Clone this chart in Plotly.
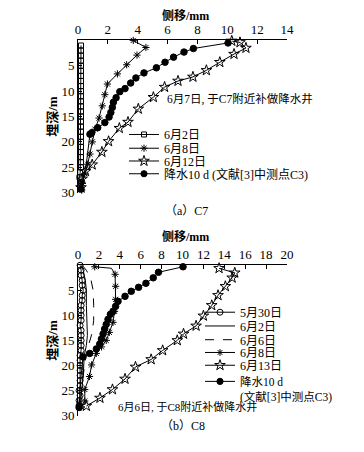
import plotly.graph_objects as go

# ---------------- data: (a) C7 ----------------
a_jun2_depth = [1, 2, 3, 4, 5, 6, 7, 8, 9, 10, 11, 12, 13, 14, 15, 16, 17, 18, 19, 20,
                21, 22, 23, 24, 25, 26, 27, 28, 29]
a_jun2_x = [0.2, 0.2, 0.2, 0.2, 0.2, 0.2, 0.2, 0.2, 0.2, 0.2, 0.2, 0.2, 0.2, 0.2, 0.2,
            0.2, 0.2, 0.2, 0.2, 0.2, 0.2, 0.2, 0.2, 0.2, 0.2, 0.15, 0.1, 0.2, 0.15]

a_jun8_depth = [0, 1.4, 2.9, 4.8, 6.6, 8.6, 10.7, 12.9, 15.3, 17.5, 20, 22.4, 24.4, 26.3, 28.2, 29.5]
a_jun8_x = [3.7, 4.55, 3.95, 3.26, 2.64, 1.97, 1.8, 1.63, 1.41, 1.14, 0.96, 0.8, 0.65, 0.45, 0.29, 0.25]

a_jun12_depth = [0.1, 0.4, 1.5, 2.7, 4.3, 5.9, 7.2, 8.0, 9.2, 11.2, 13.5, 16.1, 17.3, 19.9,
                 22.0, 24.5, 25.8, 27.3, 29]
a_jun12_x = [10.3, 10.85, 11.25, 10.45, 9.5, 8.6, 7.7, 6.7, 5.8, 5.05, 4.04, 3.35, 2.77, 2.05,
             1.6, 0.95, 0.5, 0.27, 0.2]

a_rain_depth = [0.5, 1.6, 2.3, 3.3, 4.3, 5.4, 6.4, 7.4, 8.4, 9.5, 10.1, 11.3, 12.2, 13.2, 14.2,
                15.1, 16.2, 17.2, 18.2, 18.5, 24.5, 29.3]
a_rain_x = [10.05, 7.73, 7.1, 6.4, 5.83, 5.25, 4.42, 3.88, 3.53, 3.15, 2.8, 2.55, 2.37, 2.3, 2.2,
            2.08, 1.8, 1.32, 0.92, 0.8, 0.55, 0.2]
a_rain_marked = [1] * 20 + [0, 1]

# ---------------- data: (b) C8 ----------------
b_may30_depth = [0, 1, 2, 3, 4, 5, 6, 7, 8, 9, 10, 11, 12, 13, 14, 15, 16, 17, 18, 19, 20,
                 21, 22, 23, 24, 25, 26, 27, 28]
b_may30_x = [0.2, 0.3, 0.3, 0.4, 0.4, 0.5, 0.4, 0.4, 0.3, 0.3, 0.3, 0.3, 0.2, 0.3, 0.3, 0.3,
             0.3, 0.3, 0.2, 0.2, 0.2, 0.2, 0.2, 0.2, 0.2, 0.1, 0.2, 0.1, 0.1]

b_jun2_depth = [0, 1, 3, 5, 8, 11, 14, 16, 18, 22, 26, 28]
b_jun2_x = [0.3, 0.5, 0.7, 0.8, 0.8, 0.85, 0.9, 0.8, 0.6, 0.5, 0.3, 0.2]

b_jun6_depth = [0, 1, 2.5, 5, 8, 11, 13.5, 15.5, 17.5, 22, 26, 28]
b_jun6_x = [0.4, 0.8, 1.2, 1.45, 1.5, 1.5, 1.35, 1.1, 0.8, 0.5, 0.3, 0.2]

b_jun8_depth = [0.3, 0.6, 1.8, 4.2, 6.8, 9.2, 11.4, 13.4, 15.0, 16.3, 17.6, 19.9, 22.2, 24.8, 27.1, 28.3]
b_jun8_x = [1.6, 3.2, 3.55, 3.6, 3.6, 3.5, 3.35, 3.0, 2.7, 2.25, 1.75, 1.3, 1.1, 0.65, 0.65, 0.3]
b_jun8_marked = [1, 0] + [1] * 14

b_jun13_depth = [0.6, 1.5, 2.5, 4.2, 6.0, 8.0, 10.1, 12.1, 13.7, 15.0, 17.0, 18.8, 20.3, 22.7,
                 24.8, 26.5, 28.1]
b_jun13_x = [13.5, 15.0, 14.75, 14.1, 13.4, 12.8, 12.0, 11.3, 10.1, 9.5, 8.1, 7.0, 5.5, 4.5,
             3.3, 2.1, 0.8]

b_rain_depth = [0.3, 1.4, 2.5, 3.6, 4.4, 5.2, 6.2, 7.2, 8.2, 9.2, 9.8, 10.8, 11.8, 12.7, 13.7,
                14.7, 15.7, 16.7, 17.6, 18.3, 22, 28.4]
b_rain_x = [10.05, 7.7, 7.2, 6.5, 5.8, 5.1, 4.5, 3.83, 3.6, 3.35, 3.1, 2.87, 2.7, 2.55, 2.4,
            2.24, 2.08, 1.76, 1.12, 0.48, 0.3, 0.1]
b_rain_marked = [1] * 20 + [0, 1]

a_xticks = [0, 2, 4, 6, 8, 10, 12, 14]
b_xticks = [0, 2, 4, 6, 8, 10, 12, 14, 16, 18, 20]
y_ticks = [5, 10, 15, 20, 25, 30]

# ---------------- layout helpers (page pixels -> paper coords) ----------------
OFF = 8                      # default page body margin
W, H = 364 - OFF, 452 - OFF
ML, MR = 78 - OFF, 77
PW = W - ML - MR


def px_x(p):
    return (p - OFF - ML) / PW


def px_y(p):
    return 1 - (p - OFF) / H


SERIF = "Liberation Serif, Noto Sans CJK SC"
BLACK = "#000000"

fig = go.Figure()
legend_layout = {}


def add(x, y, name, xa, ya, legend_id, lx, ly, symbol=None, size=6, dash="solid",
        marked=None, mline=1, yanchor="middle", lfont=12):
    mode = "lines+markers" if symbol else "lines"
    marker = None
    if symbol:
        sizes = size if marked is None else [size * m for m in marked]
        marker = dict(symbol=symbol, size=sizes, color=BLACK, opacity=1,
                      line=dict(color=BLACK, width=mline))
    fig.add_trace(go.Scatter(x=x, y=y, name=name, mode=mode, xaxis=xa, yaxis=ya,
                             line=dict(color=BLACK, width=1, dash=dash),
                             marker=marker, legend=legend_id, cliponaxis=False))
    legend_layout[legend_id] = dict(x=px_x(lx), y=px_y(ly), xanchor="left",
                                    yanchor=yanchor, bgcolor="rgba(0,0,0,0)",
                                    font=dict(family=SERIF, size=lfont, color=BLACK),
                                    valign="top")


add(a_jun2_x, a_jun2_depth, "6月2日", "x", "y", "legend", 124, 137, "square-open", 5)
add(a_jun8_x, a_jun8_depth, "6月8日", "x", "y", "legend2", 124, 151, "asterisk-open", 6)
add(a_jun12_x, a_jun12_depth, "6月12日", "x", "y", "legend3", 124, 164, "star-open", 8)
add(a_rain_x, a_rain_depth, "降水10 d (文献[3]中测点C3)", "x", "y", "legend4", 124, 177,
    "circle", 6.5, marked=a_rain_marked)

add(b_may30_x, b_may30_depth, "5月30日", "x2", "y2", "legend5", 200, 318, "circle-open", 6)
add(b_jun2_x, b_jun2_depth, "6月2日", "x2", "y2", "legend6", 200, 332)
add(b_jun6_x, b_jun6_depth, "6月6日", "x2", "y2", "legend7", 200, 346, dash="dash")
add(b_jun8_x, b_jun8_depth, "6月8日", "x2", "y2", "legend8", 200, 359, "asterisk-open", 6,
    marked=b_jun8_marked)
add(b_jun13_x, b_jun13_depth, "6月13日", "x2", "y2", "legend9", 200, 372, "star-open", 8)
add(b_rain_x, b_rain_depth, "降水10 d<br>(文献[3]中测点C3)", "x2", "y2", "legend10", 200, 374,
    "circle", 6.5, marked=b_rain_marked, yanchor="top", lfont=11.5)

axis_common = dict(showline=True, linecolor=BLACK, linewidth=1, ticks="inside",
                   ticklen=4, tickcolor=BLACK, tickwidth=1, showgrid=False,
                   zeroline=False, tickfont=dict(family=SERIF, size=13, color=BLACK),
                   mirror=False)

ytitle = dict(text="<b>埋深/m</b>", font=dict(family=SERIF, size=13, color=BLACK),
              standoff=0)

top_dom = [px_y(196), px_y(41)]
bot_dom = [px_y(423), px_y(270)]

fig.update_layout(
    width=W, height=H,
    margin=dict(l=ML, r=MR, t=0, b=0),
    paper_bgcolor="white", plot_bgcolor="white",
    xaxis=dict(axis_common, domain=[0, 1], range=[0, 14], side="top", anchor="y",
               tickvals=a_xticks),
    yaxis=dict(axis_common, domain=top_dom, range=[30, 0], anchor="x",
               tickvals=y_ticks, title=ytitle),
    xaxis2=dict(axis_common, domain=[0, 1], range=[0, 20], side="top", anchor="y2",
                tickvals=b_xticks),
    yaxis2=dict(axis_common, domain=bot_dom, range=[30, 0], anchor="x2",
                tickvals=y_ticks, title=ytitle),
    showlegend=True,
    **legend_layout,
)

annotations = [
    dict(text="<b>侧移/mm</b>", x=185, y=16, size=12),
    dict(text="<b>侧移/mm</b>", x=185, y=241, size=12),
    dict(text="6月7日, 于C7附近补做降水井", x=240, y=101, size=11.5),
    dict(text="6月6日, 于C8附近补做降水井", x=187, y=414, size=11),
    dict(text="（a）C7", x=186, y=215, size=12),
    dict(text="（b）C8", x=183, y=434, size=12),
]
for a in annotations:
    fig.add_annotation(text=a["text"], x=px_x(a["x"]), y=px_y(a["y"]), xref="paper",
                       yref="paper", showarrow=False, xanchor="center", yanchor="middle",
                       font=dict(family=SERIF, size=a["size"], color=BLACK))

fig.write_html("out.html")
